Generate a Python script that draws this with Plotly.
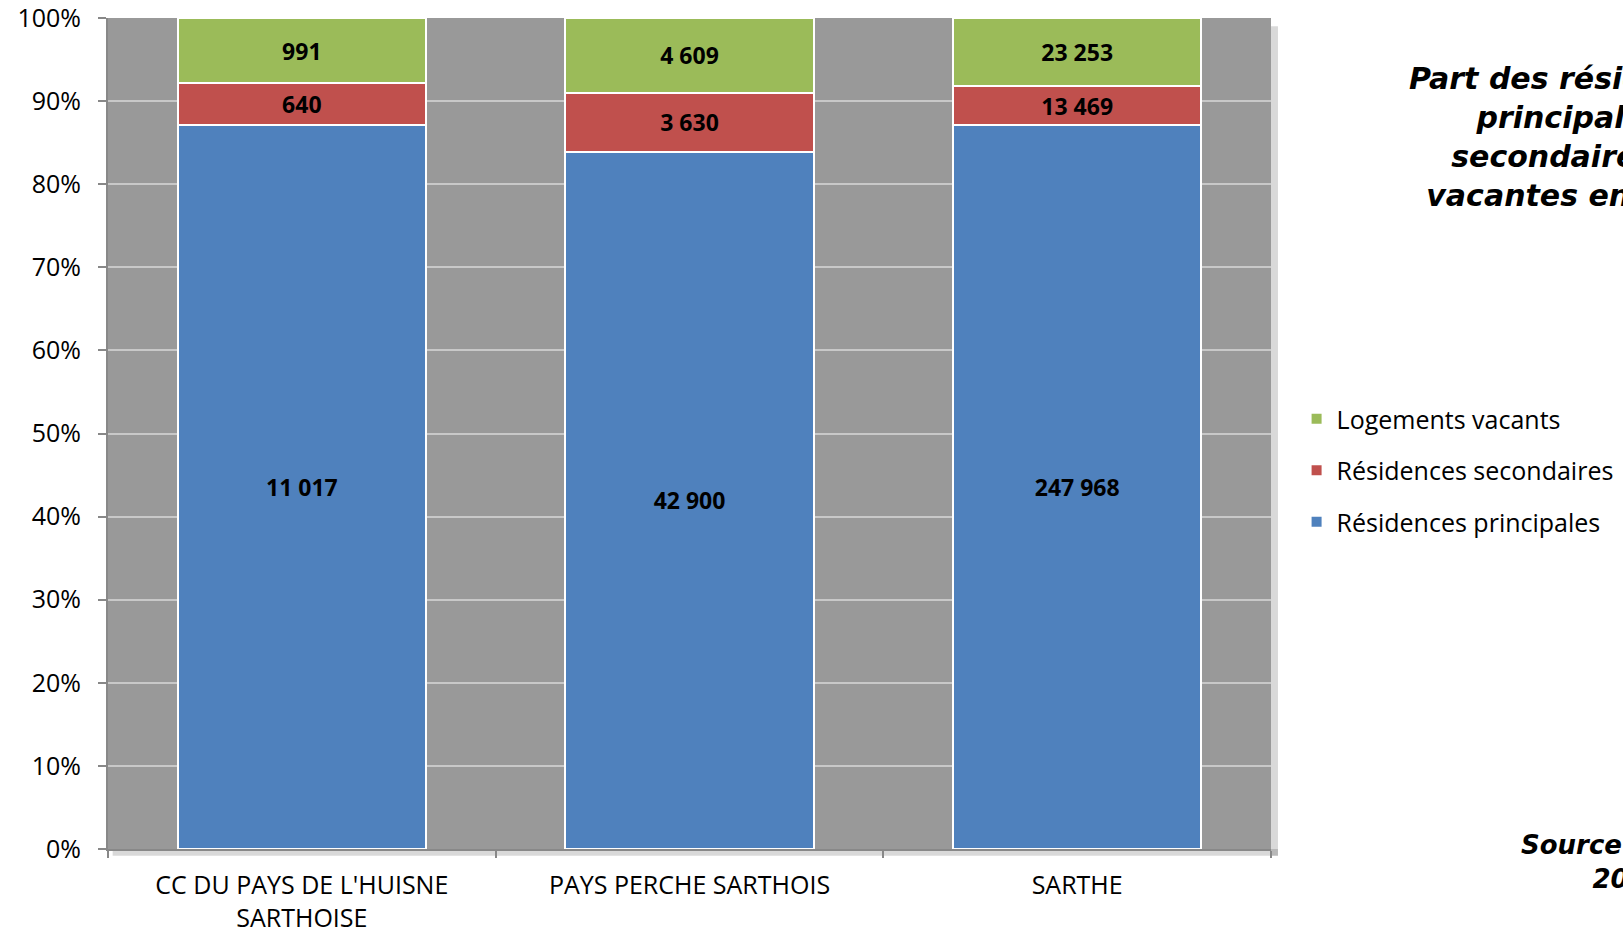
import plotly.graph_objects as go

categories = ["CC DU PAYS DE L'HUISNE<br>SARTHOISE", "PAYS PERCHE SARTHOIS", "SARTHE"]
principales = [11017, 42900, 247968]
secondaires = [640, 3630, 13469]
vacants = [991, 4609, 23253]

def fmt(v):
    return f"{v:,}".replace(",", " ")

series = [
    ("Résidences principales", principales, "#4F81BD", 3),
    ("Résidences secondaires", secondaires, "#C0504D", 2),
    ("Logements vacants", vacants, "#9BBB59", 1),
]

fig = go.Figure()
for name, vals, color, rank in series:
    fig.add_trace(go.Bar(
        x=categories, y=vals, name=name, legendgroup=name, legendrank=rank,
        marker=dict(color=color, line=dict(color="white", width=2)),
        text=[fmt(v) for v in vals], textposition="inside", insidetextanchor="middle",
        textfont=dict(family="Open Sans", size=23, color="black", weight="bold"),
        hoverinfo="skip",
    ))

fig.update_layout(
    barmode="stack", barnorm="percent", bargap=0.36,
    width=1623, height=934,
    margin=dict(l=108, r=352, t=18, b=85, autoexpand=False),
    paper_bgcolor="white", plot_bgcolor="#999999",
    legend=dict(traceorder="grouped", x=1.022, xanchor="left", y=0.545, yanchor="top",
                font=dict(family="Open Sans", size=25, color="black"),
                itemsizing="constant", tracegroupgap=16, bgcolor="rgba(0,0,0,0)"),
    showlegend=True,
)
fig.update_yaxes(range=[0, 100], dtick=10, ticksuffix="%", showgrid=True, gridcolor="#C8C8C8", gridwidth=2,
                 showline=True, linecolor="#888888", linewidth=2, ticks="outside", ticklen=8,
                 tickcolor="#888888", tickwidth=2, ticklabelstandoff=12, ticklabeloverflow="allow",
                 tickfont=dict(family="Open Sans", size=25, color="black"), zeroline=False)
fig.update_xaxes(showline=True, linecolor="#888888", linewidth=2, ticks="outside", ticklen=7,
                 tickcolor="#888888", tickwidth=2, tickson="boundaries", ticklabelstandoff=13,
                 ticklabeloverflow="allow",
                 tickfont=dict(family="Open Sans", size=25, color="black"))

# soft shadow along the right and bottom edges of the plot area
fig.add_shape(type="rect", xref="paper", yref="paper", x0=1.0, x1=1.006, y0=-0.008, y1=0.99,
              fillcolor="rgba(0,0,0,0.15)", line=dict(width=0), layer="below")
fig.add_shape(type="rect", xref="paper", yref="paper", x0=0.004, x1=1.006, y0=-0.008, y1=0.0,
              fillcolor="rgba(0,0,0,0.15)", line=dict(width=0), layer="below")

fig.add_annotation(xref="paper", yref="paper", x=1.2614, y=0.857, xanchor="center", yanchor="middle",
                   text="Part des résidences<br>principales,<br>secondaires et<br>vacantes en 2010",
                   showarrow=False, align="center",
                   font=dict(family="DejaVu Sans", size=30, color="black", weight="bold", style="italic"))
fig.add_annotation(xref="paper", yref="paper", x=1.307, y=-0.0156, xanchor="center", yanchor="middle",
                   text="Source : INSEE<br>2010",
                   showarrow=False, align="center",
                   font=dict(family="DejaVu Sans", size=26, color="black", weight="bold", style="italic"))

fig.write_html("out.html", config={"displayModeBar": False},
               post_script="document.body.style.margin='0';")
